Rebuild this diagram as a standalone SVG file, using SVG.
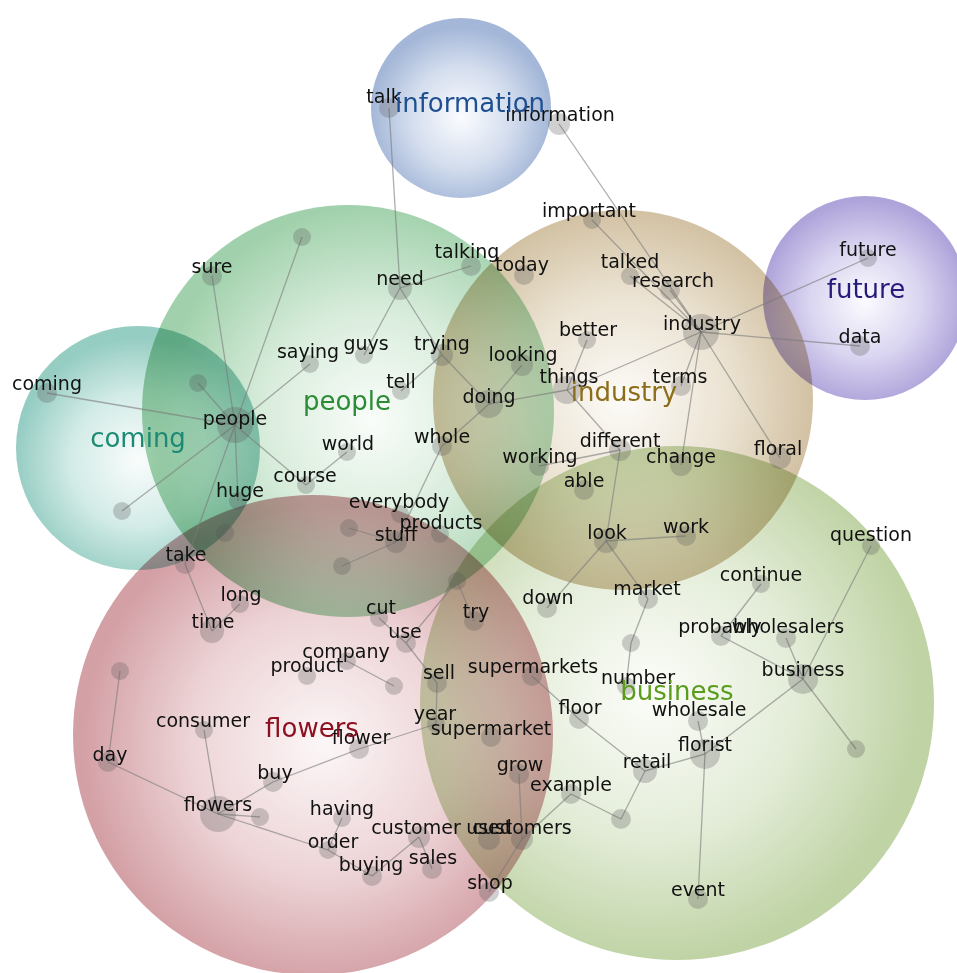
<svg xmlns="http://www.w3.org/2000/svg" width="957" height="973" viewBox="0 0 957 973">
<defs>
<radialGradient id="gInfo" cx="0.5" cy="0.55" r="0.5"><stop offset="0" stop-color="#fafbfe"/><stop offset="0.55" stop-color="#c9d5ea"/><stop offset="1" stop-color="#8aa3cd"/></radialGradient>
<radialGradient id="gFut" cx="0.5" cy="0.52" r="0.5"><stop offset="0" stop-color="#fbfaff"/><stop offset="0.55" stop-color="#cfc8ec"/><stop offset="1" stop-color="#988ad0"/></radialGradient>
<radialGradient id="gPeo" cx="0.56" cy="0.52" r="0.52"><stop offset="0" stop-color="#f8fcf8"/><stop offset="0.5" stop-color="#cfe8d3"/><stop offset="1" stop-color="#86c494"/></radialGradient>
<radialGradient id="gInd" cx="0.5" cy="0.5" r="0.5"><stop offset="0" stop-color="#fcfaf6"/><stop offset="0.55" stop-color="#e6dbc6"/><stop offset="1" stop-color="#c6b089"/></radialGradient>
<radialGradient id="gCom" cx="0.5" cy="0.55" r="0.5"><stop offset="0" stop-color="#f8fcfb"/><stop offset="0.55" stop-color="#c6e6e0"/><stop offset="1" stop-color="#78bfb2"/></radialGradient>
<radialGradient id="gFlo" cx="0.52" cy="0.52" r="0.5"><stop offset="0" stop-color="#fbf4f5"/><stop offset="0.55" stop-color="#e8c8cb"/><stop offset="1" stop-color="#c7858c"/></radialGradient>
<radialGradient id="gBus" cx="0.45" cy="0.48" r="0.52"><stop offset="0" stop-color="#fbfcf8"/><stop offset="0.55" stop-color="#dbe7cc"/><stop offset="1" stop-color="#aec78c"/></radialGradient>
</defs>
<style>
.bub{mix-blend-mode:multiply;opacity:0.78}
.nd{fill:#555;fill-opacity:0.28}
.lb{font-family:"DejaVu Sans","Liberation Sans",sans-serif;font-size:19px;fill:#111;text-anchor:middle}
.th{font-family:"DejaVu Sans","Liberation Sans",sans-serif;font-size:26px;text-anchor:middle}
#edges line{stroke:#7a7a7a;stroke-opacity:0.6;stroke-width:1.3}
</style>
<rect width="957" height="973" fill="#fff"/>
<g id="bubbles">
<circle class="bub" cx="623" cy="400" r="190" fill="url(#gInd)"/>
<circle class="bub" cx="677" cy="703" r="257" fill="url(#gBus)"/>
<circle class="bub" cx="313" cy="735" r="240" fill="url(#gFlo)"/>
<circle class="bub" cx="348" cy="411" r="206" fill="url(#gPeo)"/>
<circle class="bub" cx="138" cy="448" r="122" fill="url(#gCom)"/>
<circle class="bub" cx="461" cy="108" r="90" fill="url(#gInfo)"/>
<circle class="bub" cx="865" cy="298" r="102" fill="url(#gFut)"/>
</g>
<g id="edges">
<line x1="389" y1="108" x2="400" y2="288"/>
<line x1="559" y1="124" x2="701" y2="332"/>
<line x1="592" y1="220" x2="701" y2="332"/>
<line x1="630" y1="276" x2="701" y2="332"/>
<line x1="670" y1="290" x2="701" y2="332"/>
<line x1="701" y1="332" x2="868" y2="258"/>
<line x1="701" y1="332" x2="860" y2="346"/>
<line x1="701" y1="332" x2="567" y2="390"/>
<line x1="701" y1="332" x2="681" y2="386"/>
<line x1="701" y1="332" x2="681" y2="465"/>
<line x1="701" y1="332" x2="780" y2="458"/>
<line x1="587" y1="340" x2="567" y2="390"/>
<line x1="567" y1="390" x2="489" y2="404"/>
<line x1="567" y1="390" x2="620" y2="450"/>
<line x1="522" y1="365" x2="489" y2="404"/>
<line x1="442" y1="355" x2="489" y2="404"/>
<line x1="489" y1="404" x2="442" y2="446"/>
<line x1="442" y1="446" x2="396" y2="542"/>
<line x1="400" y1="288" x2="471" y2="266"/>
<line x1="400" y1="288" x2="364" y2="355"/>
<line x1="400" y1="288" x2="442" y2="355"/>
<line x1="442" y1="355" x2="401" y2="391"/>
<line x1="235" y1="425" x2="212" y2="276"/>
<line x1="235" y1="425" x2="302" y2="237"/>
<line x1="235" y1="425" x2="310" y2="364"/>
<line x1="235" y1="425" x2="198" y2="383"/>
<line x1="235" y1="425" x2="47" y2="393"/>
<line x1="235" y1="425" x2="122" y2="511"/>
<line x1="235" y1="425" x2="306" y2="485"/>
<line x1="235" y1="425" x2="238" y2="501"/>
<line x1="235" y1="425" x2="185" y2="564"/>
<line x1="347" y1="452" x2="306" y2="485"/>
<line x1="396" y1="542" x2="349" y2="528"/>
<line x1="396" y1="542" x2="342" y2="566"/>
<line x1="185" y1="564" x2="212" y2="631"/>
<line x1="212" y1="631" x2="240" y2="604"/>
<line x1="120" y1="671" x2="108" y2="762"/>
<line x1="108" y1="762" x2="218" y2="814"/>
<line x1="204" y1="730" x2="218" y2="814"/>
<line x1="218" y1="814" x2="273" y2="782"/>
<line x1="218" y1="814" x2="260" y2="817"/>
<line x1="218" y1="814" x2="328" y2="850"/>
<line x1="273" y1="782" x2="359" y2="749"/>
<line x1="359" y1="749" x2="436" y2="724"/>
<line x1="437" y1="683" x2="436" y2="724"/>
<line x1="406" y1="643" x2="437" y2="683"/>
<line x1="379" y1="618" x2="406" y2="643"/>
<line x1="406" y1="643" x2="457" y2="581"/>
<line x1="457" y1="581" x2="474" y2="621"/>
<line x1="347" y1="661" x2="394" y2="686"/>
<line x1="342" y1="818" x2="328" y2="850"/>
<line x1="328" y1="850" x2="372" y2="876"/>
<line x1="419" y1="837" x2="372" y2="876"/>
<line x1="419" y1="837" x2="432" y2="869"/>
<line x1="519" y1="774" x2="522" y2="839"/>
<line x1="522" y1="839" x2="489" y2="892"/>
<line x1="571" y1="794" x2="522" y2="839"/>
<line x1="571" y1="794" x2="621" y2="819"/>
<line x1="621" y1="819" x2="645" y2="771"/>
<line x1="532" y1="676" x2="579" y2="719"/>
<line x1="579" y1="719" x2="645" y2="771"/>
<line x1="645" y1="771" x2="705" y2="754"/>
<line x1="705" y1="754" x2="698" y2="899"/>
<line x1="705" y1="754" x2="698" y2="721"/>
<line x1="803" y1="679" x2="705" y2="754"/>
<line x1="803" y1="679" x2="871" y2="546"/>
<line x1="803" y1="679" x2="786" y2="638"/>
<line x1="803" y1="679" x2="721" y2="636"/>
<line x1="803" y1="679" x2="856" y2="749"/>
<line x1="761" y1="584" x2="721" y2="636"/>
<line x1="606" y1="541" x2="547" y2="608"/>
<line x1="606" y1="541" x2="648" y2="599"/>
<line x1="606" y1="541" x2="686" y2="536"/>
<line x1="606" y1="541" x2="620" y2="450"/>
<line x1="648" y1="599" x2="631" y2="643"/>
<line x1="631" y1="643" x2="626" y2="686"/>
<line x1="620" y1="450" x2="539" y2="466"/>
</g>
<g id="n-talk"><circle class="nd" cx="389" cy="108" r="10"/><text class="lb" x="384" y="103">talk</text></g>
<g id="n-information"><circle class="nd" cx="559" cy="124" r="11"/><text class="lb" x="560" y="121">information</text></g>
<g id="n-important"><circle class="nd" cx="592" cy="220" r="9"/><text class="lb" x="589" y="217">important</text></g>
<g id="n-today"><circle class="nd" cx="524" cy="275" r="10"/><text class="lb" x="522" y="271">today</text></g>
<g id="n-talked"><circle class="nd" cx="630" cy="276" r="9"/><text class="lb" x="630" y="268">talked</text></g>
<g id="n-research"><circle class="nd" cx="670" cy="290" r="10"/><text class="lb" x="673" y="287">research</text></g>
<g id="n-industry"><circle class="nd" cx="701" cy="332" r="18"/><text class="lb" x="702" y="330">industry</text></g>
<g id="n-future"><circle class="nd" cx="868" cy="258" r="9"/><text class="lb" x="868" y="256">future</text></g>
<g id="n-data"><circle class="nd" cx="860" cy="346" r="10"/><text class="lb" x="860" y="343">data</text></g>
<g id="n-better"><circle class="nd" cx="587" cy="340" r="9"/><text class="lb" x="588" y="336">better</text></g>
<g id="n-things"><circle class="nd" cx="567" cy="390" r="14"/><text class="lb" x="569" y="383">things</text></g>
<g id="n-terms"><circle class="nd" cx="681" cy="386" r="10"/><text class="lb" x="680" y="383">terms</text></g>
<g id="n-looking"><circle class="nd" cx="522" cy="365" r="11"/><text class="lb" x="523" y="361">looking</text></g>
<g id="n-doing"><circle class="nd" cx="489" cy="404" r="14"/><text class="lb" x="489" y="403">doing</text></g>
<g id="n-different"><circle class="nd" cx="620" cy="450" r="11"/><text class="lb" x="620" y="447">different</text></g>
<g id="n-change"><circle class="nd" cx="681" cy="465" r="11"/><text class="lb" x="681" y="463">change</text></g>
<g id="n-floral"><circle class="nd" cx="780" cy="458" r="11"/><text class="lb" x="778" y="455">floral</text></g>
<g id="n-working"><circle class="nd" cx="539" cy="466" r="10"/><text class="lb" x="540" y="463">working</text></g>
<g id="n-able"><circle class="nd" cx="584" cy="490" r="10"/><text class="lb" x="584" y="487">able</text></g>
<g id="n-look"><circle class="nd" cx="606" cy="541" r="12"/><text class="lb" x="607" y="539">look</text></g>
<g id="n-work"><circle class="nd" cx="686" cy="536" r="10"/><text class="lb" x="686" y="533">work</text></g>
<g id="n-p1"><circle class="nd" cx="302" cy="237" r="9"/></g>
<g id="n-sure"><circle class="nd" cx="212" cy="276" r="10"/><text class="lb" x="212" y="273">sure</text></g>
<g id="n-need"><circle class="nd" cx="400" cy="288" r="12"/><text class="lb" x="400" y="285">need</text></g>
<g id="n-talking"><circle class="nd" cx="471" cy="266" r="10"/><text class="lb" x="467" y="258">talking</text></g>
<g id="n-saying"><circle class="nd" cx="310" cy="364" r="9"/><text class="lb" x="308" y="358">saying</text></g>
<g id="n-guys"><circle class="nd" cx="364" cy="355" r="9"/><text class="lb" x="366" y="350">guys</text></g>
<g id="n-trying"><circle class="nd" cx="442" cy="355" r="11"/><text class="lb" x="442" y="350">trying</text></g>
<g id="n-tell"><circle class="nd" cx="401" cy="391" r="9"/><text class="lb" x="401" y="388">tell</text></g>
<g id="n-people"><circle class="nd" cx="235" cy="425" r="18"/><text class="lb" x="235" y="425">people</text></g>
<g id="n-p2"><circle class="nd" cx="198" cy="383" r="9"/></g>
<g id="n-world"><circle class="nd" cx="347" cy="452" r="9"/><text class="lb" x="348" y="450">world</text></g>
<g id="n-whole"><circle class="nd" cx="442" cy="446" r="10"/><text class="lb" x="442" y="443">whole</text></g>
<g id="n-course"><circle class="nd" cx="306" cy="485" r="9"/><text class="lb" x="305" y="482">course</text></g>
<g id="n-huge"><circle class="nd" cx="238" cy="501" r="9"/><text class="lb" x="240" y="497">huge</text></g>
<g id="n-p3"><circle class="nd" cx="225" cy="533" r="9"/></g>
<g id="n-everybody"><circle class="nd" cx="400" cy="514" r="9"/><text class="lb" x="399" y="508">everybody</text></g>
<g id="n-products"><circle class="nd" cx="440" cy="534" r="9"/><text class="lb" x="441" y="529">products</text></g>
<g id="n-stuff"><circle class="nd" cx="396" cy="542" r="11"/><text class="lb" x="396" y="541">stuff</text></g>
<g id="n-p4"><circle class="nd" cx="349" cy="528" r="9"/></g>
<g id="n-p5"><circle class="nd" cx="342" cy="566" r="9"/></g>
<g id="n-coming"><circle class="nd" cx="47" cy="393" r="10"/><text class="lb" x="47" y="390">coming</text></g>
<g id="n-c1"><circle class="nd" cx="122" cy="511" r="9"/></g>
<g id="n-take"><circle class="nd" cx="185" cy="564" r="10"/><text class="lb" x="186" y="561">take</text></g>
<g id="n-long"><circle class="nd" cx="240" cy="604" r="9"/><text class="lb" x="241" y="601">long</text></g>
<g id="n-time"><circle class="nd" cx="212" cy="631" r="12"/><text class="lb" x="213" y="628">time</text></g>
<g id="n-f1"><circle class="nd" cx="120" cy="671" r="9"/></g>
<g id="n-day"><circle class="nd" cx="108" cy="762" r="10"/><text class="lb" x="110" y="761">day</text></g>
<g id="n-consumer"><circle class="nd" cx="204" cy="730" r="9"/><text class="lb" x="203" y="727">consumer</text></g>
<g id="n-flowers"><circle class="nd" cx="218" cy="814" r="18"/><text class="lb" x="218" y="811">flowers</text></g>
<g id="n-buy"><circle class="nd" cx="273" cy="782" r="10"/><text class="lb" x="275" y="779">buy</text></g>
<g id="n-f2"><circle class="nd" cx="260" cy="817" r="9"/></g>
<g id="n-having"><circle class="nd" cx="342" cy="818" r="9"/><text class="lb" x="342" y="815">having</text></g>
<g id="n-order"><circle class="nd" cx="328" cy="850" r="9"/><text class="lb" x="333" y="848">order</text></g>
<g id="n-buying"><circle class="nd" cx="372" cy="876" r="10"/><text class="lb" x="371" y="871">buying</text></g>
<g id="n-sales"><circle class="nd" cx="432" cy="869" r="10"/><text class="lb" x="433" y="864">sales</text></g>
<g id="n-customer"><circle class="nd" cx="419" cy="837" r="11"/><text class="lb" x="416" y="834">customer</text></g>
<g id="n-used"><circle class="nd" cx="489" cy="839" r="11"/><text class="lb" x="489" y="834">used</text></g>
<g id="n-customers"><circle class="nd" cx="522" cy="839" r="11"/><text class="lb" x="522" y="834">customers</text></g>
<g id="n-shop"><circle class="nd" cx="489" cy="892" r="10"/><text class="lb" x="490" y="889">shop</text></g>
<g id="n-grow"><circle class="nd" cx="519" cy="774" r="10"/><text class="lb" x="520" y="771">grow</text></g>
<g id="n-flower"><circle class="nd" cx="359" cy="749" r="10"/><text class="lb" x="361" y="744">flower</text></g>
<g id="n-company"><circle class="nd" cx="347" cy="661" r="9"/><text class="lb" x="346" y="658">company</text></g>
<g id="n-product"><circle class="nd" cx="307" cy="676" r="9"/><text class="lb" x="307" y="672">product</text></g>
<g id="n-f3"><circle class="nd" cx="394" cy="686" r="9"/></g>
<g id="n-cut"><circle class="nd" cx="379" cy="618" r="9"/><text class="lb" x="381" y="614">cut</text></g>
<g id="n-use"><circle class="nd" cx="406" cy="643" r="10"/><text class="lb" x="405" y="638">use</text></g>
<g id="n-sell"><circle class="nd" cx="437" cy="683" r="10"/><text class="lb" x="439" y="679">sell</text></g>
<g id="n-year"><circle class="nd" cx="436" cy="724" r="9"/><text class="lb" x="435" y="720">year</text></g>
<g id="n-supermarket"><circle class="nd" cx="491" cy="737" r="10"/><text class="lb" x="491" y="735">supermarket</text></g>
<g id="n-try"><circle class="nd" cx="474" cy="621" r="10"/><text class="lb" x="476" y="618">try</text></g>
<g id="n-f4"><circle class="nd" cx="457" cy="581" r="9"/></g>
<g id="n-down"><circle class="nd" cx="547" cy="608" r="10"/><text class="lb" x="548" y="604">down</text></g>
<g id="n-market"><circle class="nd" cx="648" cy="599" r="10"/><text class="lb" x="647" y="595">market</text></g>
<g id="n-b1"><circle class="nd" cx="631" cy="643" r="9"/></g>
<g id="n-number"><circle class="nd" cx="626" cy="686" r="9"/><text class="lb" x="638" y="684">number</text></g>
<g id="n-supermarkets"><circle class="nd" cx="532" cy="676" r="10"/><text class="lb" x="533" y="673">supermarkets</text></g>
<g id="n-floor"><circle class="nd" cx="579" cy="719" r="10"/><text class="lb" x="580" y="714">floor</text></g>
<g id="n-retail"><circle class="nd" cx="645" cy="771" r="12"/><text class="lb" x="647" y="768">retail</text></g>
<g id="n-florist"><circle class="nd" cx="705" cy="754" r="15"/><text class="lb" x="705" y="751">florist</text></g>
<g id="n-wholesale"><circle class="nd" cx="698" cy="721" r="10"/><text class="lb" x="699" y="716">wholesale</text></g>
<g id="n-business"><circle class="nd" cx="803" cy="679" r="15"/><text class="lb" x="803" y="676">business</text></g>
<g id="n-question"><circle class="nd" cx="871" cy="546" r="9"/><text class="lb" x="871" y="541">question</text></g>
<g id="n-continue"><circle class="nd" cx="761" cy="584" r="9"/><text class="lb" x="761" y="581">continue</text></g>
<g id="n-probably"><circle class="nd" cx="721" cy="636" r="10"/><text class="lb" x="720" y="633">probably</text></g>
<g id="n-wholesalers"><circle class="nd" cx="786" cy="638" r="10"/><text class="lb" x="788" y="633">wholesalers</text></g>
<g id="n-b2"><circle class="nd" cx="856" cy="749" r="9"/></g>
<g id="n-event"><circle class="nd" cx="698" cy="899" r="10"/><text class="lb" x="698" y="896">event</text></g>
<g id="n-example"><circle class="nd" cx="571" cy="794" r="10"/><text class="lb" x="571" y="791">example</text></g>
<g id="n-b3"><circle class="nd" cx="621" cy="819" r="10"/></g>
<g id="themes">
<text class="th" x="470" y="112" fill="#1d4f91">information</text>
<text class="th" x="866" y="298" fill="#261a7a">future</text>
<text class="th" x="347" y="410" fill="#2c8c35">people</text>
<text class="th" x="624" y="401" fill="#8c6d1a">industry</text>
<text class="th" x="138" y="447" fill="#1c8a74">coming</text>
<text class="th" x="312" y="737" fill="#8c1020">flowers</text>
<text class="th" x="677" y="700" fill="#5a9c1c">business</text>
</g>
</svg>
